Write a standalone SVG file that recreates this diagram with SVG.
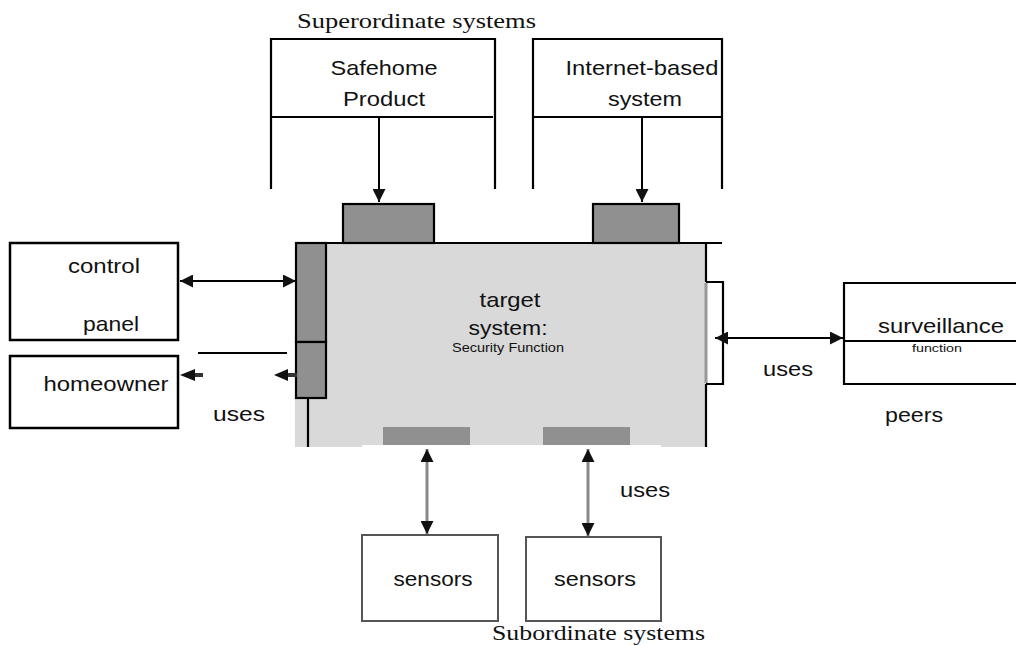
<svg xmlns="http://www.w3.org/2000/svg" width="1016" height="646" viewBox="0 0 1016 646">
<style>
.ln{fill:none;stroke:#000;stroke-width:2.2}
.box{fill:#fff;stroke:#000;stroke-width:2.5}
.port{fill:#909090;stroke:#000;stroke-width:2.2}
.s{font-family:"Liberation Sans",Arial,sans-serif;font-size:21px;fill:#111;text-anchor:middle}
.r{font-family:"Liberation Serif","Times New Roman",serif;font-size:21px;fill:#111}
.c{fill:none;stroke:#000;stroke-width:2}
</style>
<defs>
<marker id="ah" viewBox="0 0 10 10" refX="10" refY="5" markerUnits="userSpaceOnUse" markerWidth="14" markerHeight="13" orient="auto-start-reverse">
<path d="M0,0 L10,5 L0,10 z" fill="#111"/>
</marker>
</defs>
<rect width="1016" height="646" fill="#fff"/>

<text class="r" x="297" y="28" textLength="239" lengthAdjust="spacingAndGlyphs">Superordinate systems</text>
<text class="r" x="492" y="640" textLength="213" lengthAdjust="spacingAndGlyphs">Subordinate systems</text>

<g id="safehome">
<path class="ln" d="M271,189 V39 H495 V189"/>
<path class="ln" d="M271,117 H493"/>
<text class="s" x="384" y="75" textLength="107" lengthAdjust="spacingAndGlyphs">Safehome</text>
<text class="s" x="384" y="106" textLength="82" lengthAdjust="spacingAndGlyphs">Product</text>
</g>

<g id="internet">
<path class="ln" d="M533,189 V39 H722 V189"/>
<path class="ln" d="M533,117 H722"/>
<text class="s" x="642" y="75" textLength="153" lengthAdjust="spacingAndGlyphs">Internet-based</text>
<text class="s" x="645" y="106" textLength="74" lengthAdjust="spacingAndGlyphs">system</text>
</g>

<g id="target">
<rect x="295" y="243" width="411" height="204" fill="#d9d9d9"/>
<rect x="362" y="445" width="299" height="5" fill="#fff"/>
<rect class="port" x="343" y="204" width="91" height="39"/>
<rect class="port" x="593" y="204" width="86" height="39"/>
<path class="ln" d="M295,243 H722"/>
<path class="ln" d="M706,243 V282 M706,384 V447"/>
<path d="M706,283 V383" stroke="#999" stroke-width="3"/>
<path class="ln" d="M706,282 H723 V384 H706"/>
<rect class="port" x="296" y="243" width="30" height="99"/>
<rect class="port" x="296" y="342" width="30" height="56"/>
<path class="ln" d="M308,398 V447"/>
<rect x="383" y="427" width="87" height="18" fill="#909090"/>
<rect x="543" y="427" width="87" height="18" fill="#909090"/>
<text class="s" x="510" y="307" textLength="61" lengthAdjust="spacingAndGlyphs">target</text>
<text class="s" x="508" y="335" textLength="79" lengthAdjust="spacingAndGlyphs">system:</text>
<text class="s" x="508" y="352" style="font-size:12px" textLength="112" lengthAdjust="spacingAndGlyphs">Security Function</text>
</g>

<g id="control-panel">
<rect class="box" x="10" y="243" width="168" height="97"/>
<text class="s" x="104" y="273" textLength="72" lengthAdjust="spacingAndGlyphs">control</text>
<text class="s" x="111" y="331" textLength="56" lengthAdjust="spacingAndGlyphs">panel</text>
</g>

<g id="homeowner">
<rect class="box" x="10" y="356" width="168" height="72"/>
<text class="s" x="106" y="391" textLength="125" lengthAdjust="spacingAndGlyphs">homeowner</text>
</g>

<g id="surveillance">
<path class="ln" d="M1018,283 H844 V384 H1018"/>
<path class="ln" d="M844,341 H1018"/>
<text class="s" x="941" y="333" textLength="126" lengthAdjust="spacingAndGlyphs">surveillance</text>
<text class="s" x="937" y="352" style="font-size:11px" textLength="50" lengthAdjust="spacingAndGlyphs">function</text>
</g>

<g id="sensors-1">
<rect x="362" y="535" width="136" height="86" fill="#fff" stroke="#555" stroke-width="2"/>
<text class="s" x="433" y="586" textLength="79" lengthAdjust="spacingAndGlyphs">sensors</text>
</g>

<g id="sensors-2">
<rect x="526" y="537" width="135" height="84" fill="#fff" stroke="#555" stroke-width="2"/>
<text class="s" x="595" y="586" textLength="82" lengthAdjust="spacingAndGlyphs">sensors</text>
</g>

<g id="labels">
<text class="s" x="239" y="421" textLength="52" lengthAdjust="spacingAndGlyphs">uses</text>
<text class="s" x="788" y="376" textLength="50" lengthAdjust="spacingAndGlyphs">uses</text>
<text class="s" x="914" y="422" textLength="58" lengthAdjust="spacingAndGlyphs">peers</text>
<text class="s" x="645" y="497" textLength="50" lengthAdjust="spacingAndGlyphs">uses</text>
</g>

<g id="connectors">
<line class="c" x1="379" y1="117" x2="379" y2="202" marker-end="url(#ah)"/>
<line class="c" x1="642" y1="117" x2="642" y2="202" marker-end="url(#ah)"/>
<line class="c" x1="180" y1="281" x2="296" y2="281" marker-start="url(#ah)" marker-end="url(#ah)"/>
<path class="c" d="M198,353 H287"/>
<polygon points="180,375 195,369 195,381" fill="#111"/>
<rect x="195" y="373" width="8" height="4" fill="#333"/>
<polygon points="274,375 288,369 288,381" fill="#111"/>
<rect x="288" y="373" width="9" height="4" fill="#333"/>
<line class="c" x1="715" y1="338" x2="843" y2="338" marker-start="url(#ah)" marker-end="url(#ah)"/>
<line x1="427" y1="449" x2="427" y2="534" stroke="#888" stroke-width="3" marker-start="url(#ah)" marker-end="url(#ah)"/>
<line x1="588" y1="449" x2="588" y2="536" stroke="#888" stroke-width="3" marker-start="url(#ah)" marker-end="url(#ah)"/>
</g>
</svg>
